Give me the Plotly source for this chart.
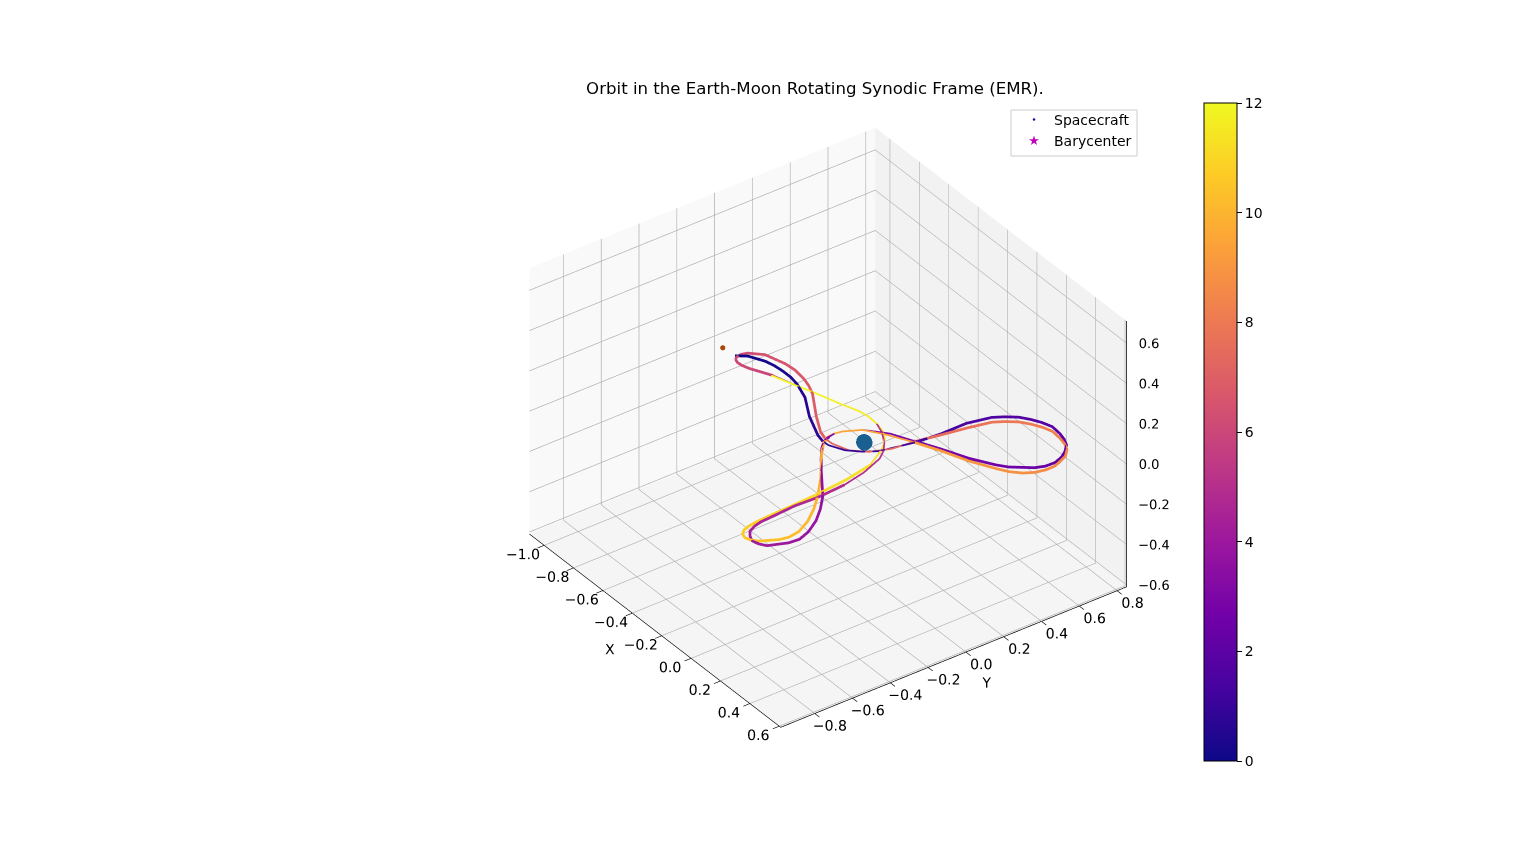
import numpy as np
import plotly.graph_objects as go

ORBIT_T = [0,0.08,0.18,0.32,0.45,0.55,0.68,0.8,0.87,0.94,1.0,1.06,1.12,1.18,1.3,1.42,1.55,1.72,1.88,2.02,2.12,2.22,2.36,2.5,2.63,2.74,2.84,2.93,3.0,3.04,3.12,3.2,3.28,3.36,3.5,3.64,3.8,3.95,4.1,4.22,4.32,4.42,4.54,4.67,4.78,4.9,5.0,5.08,5.16,5.26,5.38,5.5,5.62,5.74,5.88,6.02,6.14,6.22,6.32,6.44,6.58,6.7,6.82,6.95,7.05,7.13,7.2,7.27,7.34,7.42,7.55,7.68,7.82,7.98,8.15,8.3,8.42,8.54,8.68,8.82,8.96,9.08,9.18,9.27,9.36,9.44,9.52,9.6,9.72,9.86,9.96,10.12,10.28,10.42,10.55,10.65,10.73,10.87,11.0,11.12,11.25,11.35,11.43,11.5,11.58,11.68,11.76,11.85,11.92,12.0]
ORBIT_X = [-0.830,-0.797,-0.724,-0.622,-0.512,-0.412,-0.289,-0.154,-0.070,0.000,0.050,0.088,0.105,0.123,0.135,0.134,0.160,0.224,0.312,0.421,0.506,0.566,0.581,0.533,0.452,0.350,0.228,0.112,0.012,-0.015,-0.079,-0.118,-0.119,-0.070,0.059,0.199,0.312,0.368,0.343,0.299,0.233,0.187,0.173,0.174,0.192,0.198,0.179,0.135,0.052,-0.081,-0.200,-0.298,-0.416,-0.500,-0.619,-0.721,-0.784,-0.817,-0.815,-0.765,-0.660,-0.529,-0.416,-0.271,-0.169,-0.073,0.011,0.068,0.105,0.117,0.141,0.163,0.189,0.253,0.342,0.450,0.535,0.590,0.604,0.568,0.475,0.367,0.240,0.120,0.005,-0.079,-0.118,-0.122,-0.031,0.097,0.186,0.292,0.331,0.302,0.256,0.203,0.175,0.162,0.166,0.174,0.175,0.150,0.085,0.025,-0.081,-0.200,-0.298,-0.416,-0.500,-0.624]
ORBIT_Y = [-0.060,-0.015,0.023,0.040,0.031,-0.003,-0.075,-0.133,-0.141,-0.106,-0.051,0.011,0.093,0.176,0.310,0.453,0.571,0.668,0.726,0.739,0.710,0.636,0.536,0.449,0.364,0.300,0.244,0.184,0.134,0.110,0.051,-0.027,-0.099,-0.177,-0.279,-0.378,-0.500,-0.629,-0.733,-0.791,-0.786,-0.727,-0.627,-0.507,-0.399,-0.261,-0.142,-0.022,0.069,0.131,0.126,0.090,0.053,0.022,-0.015,-0.068,-0.082,-0.064,-0.002,0.052,0.083,0.080,0.041,-0.051,-0.107,-0.121,-0.092,-0.027,0.068,0.180,0.306,0.432,0.550,0.647,0.706,0.718,0.690,0.608,0.520,0.424,0.348,0.288,0.236,0.178,0.113,0.051,-0.027,-0.103,-0.209,-0.311,-0.395,-0.528,-0.655,-0.740,-0.802,-0.802,-0.756,-0.641,-0.517,-0.387,-0.230,-0.085,0.029,0.093,0.131,0.126,0.090,0.053,0.022,-0.022]

# further readings on the tight parts of the curve
EXTRA_T = [1.95,2.07,2.17,2.29,8.22,8.36,8.48,8.61,6.08,6.18,6.27,4.02,4.16,4.27,4.37,4.48,10.35,10.49,10.6,10.69,10.8,3.24,3.32,3.43,9.56,9.66,5.12,5.21,5.32,11.47,11.54,11.63,0.84,7.09,6.64,6.76,0.25,0.38,3.72,3.88,10.04,10.2,1.63,1.8,2.43,2.56,7.9,8.07,8.75,8.89]
EXTRA_X = [0.362,0.466,0.541,0.583,0.391,0.495,0.570,0.604,-0.757,-0.803,-0.824,0.363,0.329,0.267,0.204,0.176,0.322,0.282,0.231,0.184,0.166,-0.125,-0.103,-0.010,-0.125,-0.094,0.100,-0.016,-0.145,0.056,-0.027,-0.145,-0.107,-0.118,-0.599,-0.474,-0.675,-0.569,0.261,0.350,0.244,0.322,0.188,0.267,0.564,0.497,0.217,0.296,0.593,0.526]
EXTRA_Y = [0.744,0.728,0.674,0.587,0.723,0.708,0.654,0.567,-0.080,-0.076,-0.032,-0.683,-0.770,-0.800,-0.763,-0.682,-0.701,-0.779,-0.811,-0.780,-0.702,-0.065,-0.138,-0.227,-0.065,-0.149,0.027,0.109,0.135,0.063,0.119,0.135,-0.143,-0.122,0.088,0.065,0.035,0.040,-0.438,-0.569,-0.460,-0.596,0.620,0.701,0.490,0.401,0.599,0.680,0.470,0.381]

ORBIT_CENTRE = (-0.027, -0.0425, 0.09)
ORBIT_SCALE = 0.97
LOWER_LOBE_DIP = 0.035      # the lower lobe sits slightly below the orbit's mean plane

MOON = (-0.937, -0.084, 0.065)
EARTH = ORBIT_CENTRE
EARTH_RADIUS = 0.034
BARYCENTER = ORBIT_CENTRE

# stretches the spacecraft crossed quickly (thin, sparse line in the picture)
FAST_WINDOWS = [(0.84, 1.18), (2.93, 3.28), (4.9, 5.88), (7.09, 7.42), (9.27, 9.6), (11.35, 12.0)]

X_TICKS = [-1.0, -0.8, -0.6, -0.4, -0.2, 0.0, 0.2, 0.4, 0.6]
Y_TICKS = [-0.8, -0.6, -0.4, -0.2, 0.0, 0.2, 0.4, 0.6, 0.8]
Z_TICKS = [-0.6, -0.4, -0.2, 0.0, 0.2, 0.4, 0.6]
CBAR_TICKS = [0, 2, 4, 6, 8, 10, 12]

XR = [-1.1, 0.61]
YR = [-0.98, 0.85]
ZR = [-0.61, 0.71]

FONT = "DejaVu Sans"
fig = go.Figure()

t_all = np.array(ORBIT_T + EXTRA_T, dtype=float)
order = np.argsort(t_all)
t_all = t_all[order]
raw_x = np.array(ORBIT_X + EXTRA_X)[order]
raw_y = np.array(ORBIT_Y + EXTRA_Y)[order]
lobe = np.clip((-raw_y - 0.2) / 0.4, 0, 1)
scale = ORBIT_SCALE + (1 - ORBIT_SCALE) * lobe
x_all = raw_x * scale + ORBIT_CENTRE[0]
y_all = raw_y * scale + ORBIT_CENTRE[1]
z_all = ORBIT_CENTRE[2] - LOWER_LOBE_DIP * lobe

edges = [0.0]
for a, b in FAST_WINDOWS:
    edges += [a, b]
edges.append(12.0)
for i in range(len(edges) - 1):
    lo, hi = edges[i], edges[i + 1]
    if hi <= lo:
        continue
    mask = (t_all >= lo) & (t_all <= hi)
    fig.add_trace(go.Scatter3d(
        x=x_all[mask], y=y_all[mask], z=z_all[mask], mode="lines", showlegend=False,
        line=dict(color=t_all[mask], coloraxis="coloraxis", width=3.5 if i % 2 else 5.5),
        hoverinfo="skip"))

fig.add_trace(go.Scatter3d(
    x=[BARYCENTER[0]], y=[BARYCENTER[1]], z=[BARYCENTER[2]], mode="markers", showlegend=False,
    marker=dict(size=2, color="#2a5f9e", symbol="diamond")))
fig.add_trace(go.Scatter3d(
    x=[MOON[0]], y=[MOON[1]], z=[MOON[2]], mode="markers", showlegend=False,
    marker=dict(size=3, color="#a8480c")))

# z axis drawn on the right-hand edge
fig.add_trace(go.Scatter3d(
    x=[XR[1], XR[1]], y=[YR[1], YR[1]], z=ZR, mode="lines", showlegend=False,
    line=dict(color="black", width=1.5), hoverinfo="skip"))
fig.add_trace(go.Scatter3d(
    x=[XR[1]] * len(Z_TICKS), y=[YR[1]] * len(Z_TICKS), z=Z_TICKS, mode="text", showlegend=False,
    text=[("\u00a0" * 4 if t < 0 else "\u00a0" * 7) + f"{t:.1f}".replace("-", "\u2212") for t in Z_TICKS],
    textposition="middle right",
    textfont=dict(family=FONT, size=13, color="black"), hoverinfo="skip"))

u = np.linspace(0, 2 * np.pi, 40)
v = np.linspace(0, np.pi, 24)
sx = EARTH[0] + EARTH_RADIUS * np.outer(np.cos(u), np.sin(v))
sy = EARTH[1] + EARTH_RADIUS * np.outer(np.sin(u), np.sin(v))
sz = EARTH[2] + EARTH_RADIUS * np.outer(np.ones_like(u), np.cos(v))
fig.add_trace(go.Surface(
    x=sx, y=sy, z=sz, showscale=False, opacity=0.95, hoverinfo="skip",
    surfacecolor=np.zeros_like(sx), colorscale=[[0, "#1f77b4"], [1, "#1f77b4"]],
    lighting=dict(ambient=0.8, diffuse=0.35, specular=0.0, roughness=0.9),
    lightposition=dict(x=0, y=0, z=1000)))

fig.add_trace(go.Scatter(x=[None], y=[None], mode="markers", name="Spacecraft",
                         marker=dict(size=2.5, color="#2a0593")))
fig.add_trace(go.Scatter(x=[None], y=[None], mode="markers", name="Barycenter",
                         marker=dict(size=7.5, color="#bf00bf", symbol="star")))


def ax(title, rng, ticks):
    return dict(
        title=dict(text=title, font=dict(family=FONT, size=14, color="black")),
        range=rng, tickvals=ticks, ticktext=[f"{t:.1f}".replace("-", "\u2212") for t in ticks],
        tickfont=dict(family=FONT, size=13, color="black"), tickangle=0,
        showgrid=True, gridcolor="#b0b0b0", gridwidth=1.5,
        showline=True, linecolor="black", linewidth=1.5,
        ticks="outside", tickcolor="black", ticklen=8, tickwidth=1.5,
        zeroline=False, showspikes=False, showbackground=True, autorange=False)


zaxis = ax("", ZR, Z_TICKS)
zaxis.update(showticklabels=False, showline=False, ticks="")

fig.update_layout(
    width=1536, height=855, margin=dict(l=0, r=0, t=0, b=0),
    paper_bgcolor="white", plot_bgcolor="white", showlegend=True,
    font=dict(family=FONT, size=14, color="black"),
    title=dict(text="Orbit in the Earth-Moon Rotating Synodic Frame (EMR).",
               x=815 / 1536, xanchor="center", y=1 - 88 / 855, yanchor="middle",
               font=dict(family=FONT, size=16.6, color="black")),
    xaxis=dict(visible=False), yaxis=dict(visible=False),
    legend=dict(x=1014 / 1536, y=1 - 104 / 855, xanchor="left", yanchor="top",
                bgcolor="rgba(0,0,0,0)", borderwidth=0,
                font=dict(family=FONT, size=14)),
    shapes=[dict(type="rect", xref="paper", yref="paper", layer="above",
                 x0=1011 / 1536, x1=1137 / 1536, y0=1 - 156 / 855, y1=1 - 110 / 855,
                 fillcolor="rgba(255,255,255,0.8)", line=dict(color="#cccccc", width=1))],
    coloraxis=dict(
        cmin=0, cmax=12, colorscale="Plasma",
        colorbar=dict(x=1204 / 1536, xanchor="left", xpad=0, ypad=0, thickness=33, thicknessmode="pixels",
                      y=1 - 432 / 855, yanchor="middle", len=658 / 855, lenmode="fraction",
                      outlinewidth=1, outlinecolor="black", tickvals=CBAR_TICKS,
                      ticks="outside", ticklen=5, tickcolor="black",
                      tickfont=dict(family=FONT, size=14, color="black"))),
    scene=dict(
        domain=dict(x=[0.078, 1.0], y=[0.0, 1.0]),
        aspectmode="manual", aspectratio=dict(x=1, y=1, z=0.75),
        camera=dict(eye=dict(x=6.95, y=-5.05, z=5.79), center=dict(x=0, y=0, z=0),
                    up=dict(x=0, y=0, z=1), projection=dict(type="orthographic")),
        xaxis=dict(ax("X", XR, X_TICKS), backgroundcolor="#f9f9f9"),
        yaxis=dict(ax("Y", YR, Y_TICKS), backgroundcolor="#f2f2f2"),
        zaxis=dict(zaxis, backgroundcolor="#f5f5f5"),
    ),
)

fig.write_html("out.html", config=dict(displayModeBar=False),
               post_script="document.body.style.margin='0';")
